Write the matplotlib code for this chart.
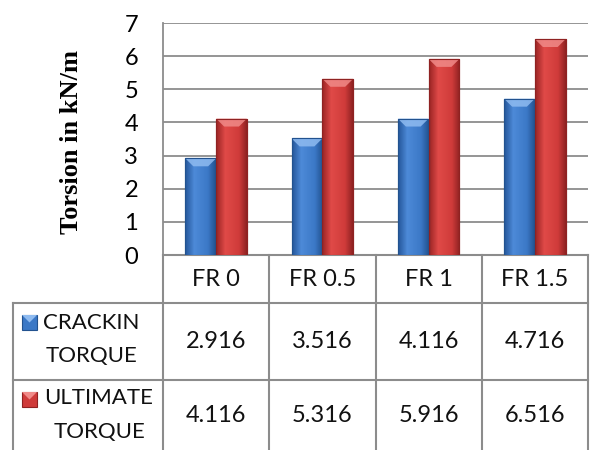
import numpy as np
import matplotlib
matplotlib.use("Agg")
import matplotlib.pyplot as plt
from matplotlib.colors import LinearSegmentedColormap
from matplotlib.patches import Polygon, Rectangle
from matplotlib.transforms import blended_transform_factory

categories = ["FR 0", "FR 0.5", "FR 1", "FR 1.5"]
cracking = [2.916, 3.516, 4.116, 4.716]
ultimate = [4.116, 5.316, 5.916, 6.516]
series_names = [("CRACKIN", "TORQUE"), ("ULTIMATE", "TORQUE")]
yticks = [0, 1, 2, 3, 4, 5, 6, 7]

W, H = 592, 450
fig = plt.figure(figsize=(W / 100, H / 100), dpi=100)

# pixel helpers for the layout
def fx(px):
    return px / W

def fy(px):
    return 1 - px / H

ax = fig.add_axes([fx(163), fy(255), fx(588) - fx(163), fy(23) - fy(255)])
ax.set_xlim(-0.5, len(categories) - 0.5)
ax.set_ylim(0, 7)
ax.set_yticks(yticks)
ax.set_xticks([])
for s in ["top", "right", "bottom"]:
    ax.spines[s].set_visible(False)
grid_c = "#8c8c8c"
ax.spines["left"].set_color(grid_c)
ax.spines["left"].set_linewidth(1.3)
ax.yaxis.grid(True, color=grid_c, linewidth=1.3)
ax.set_axisbelow(True)
ax.tick_params(axis="y", length=0, pad=18, labelsize=17)
for lab in ax.get_yticklabels():
    lab.set_fontfamily("Lato")

fig.text(fx(72), fy(142), "Torsion in kN/m", rotation=90, ha="center", va="center",
         family="Liberation Serif", weight="bold", fontsize=19)

blue = ["#24569a", "#4d8ad8", "#3b78c6", "#22528f"]
red = ["#9a2424", "#e04a48", "#cf3b3a", "#8f2222"]
blue_top = "#8fbbf0"
red_top = "#f08a88"

bw = 0.29
x = np.arange(len(categories))
grad = np.linspace(0, 1, 64).reshape(1, -1)


def shaded_bars(xs, vals, stops, top_c):
    cmap = LinearSegmentedColormap.from_list("g", list(zip([0, 0.3, 0.75, 1], stops)))
    bars = ax.bar(xs, vals, width=bw, color=stops[2], edgecolor=stops[3], linewidth=0.8, zorder=2)
    for b in bars:
        x0, w, h = b.get_x(), b.get_width(), b.get_height()
        im = ax.imshow(grad, extent=[x0, x0 + w, 0, h], aspect="auto", cmap=cmap, zorder=2.5)
        im.set_clip_path(b)
        # bevelled top edge
        d, dh = w * 0.26, 0.24
        ax.add_patch(Polygon([(x0, h), (x0 + w, h), (x0 + w - d, h - dh), (x0 + d, h - dh)],
                             closed=True, facecolor=top_c, edgecolor="none", alpha=0.85, zorder=3))
        ax.add_patch(Rectangle((x0, 0), w, h, fill=False, edgecolor=stops[3], linewidth=0.8, zorder=3.5))
    return bars


shaded_bars(x - bw / 2, cracking, blue, blue_top)
shaded_bars(x + bw / 2, ultimate, red, red_top)
ax.set_xlim(-0.5, len(categories) - 0.5)
ax.set_ylim(0, 7)

# data table under the plot
tr = blended_transform_factory(ax.transData, fig.transFigure)
tf = fig.transFigure
lw = 1.5
edges = np.arange(len(categories) + 1) - 0.5
y_head, y_r1, y_r2, y_bot = fy(255), fy(303), fy(380), fy(452)
for e in edges:
    ax.plot([e, e], [y_head, y_bot], color=grid_c, lw=lw, transform=tr, clip_on=False)
ax.plot([edges[0], edges[-1]], [y_head, y_head], color=grid_c, lw=lw, transform=tr, clip_on=False)
for yy in (y_r1, y_r2):
    fig.add_artist(plt.Line2D([fx(13), fx(588)], [yy, yy], color=grid_c, lw=lw))
fig.add_artist(plt.Line2D([fx(13), fx(13)], [y_r1, y_bot], color=grid_c, lw=lw))

cell_font = dict(family="Lato", fontsize=17, ha="center", va="center", color="#111111")
for i, c in enumerate(categories):
    ax.text(x[i], fy(280), c, transform=tr, clip_on=False, **cell_font)
    ax.text(x[i], fy(341), f"{cracking[i]:.3f}", transform=tr, clip_on=False, **cell_font)
    ax.text(x[i], fy(416), f"{ultimate[i]:.3f}", transform=tr, clip_on=False, **cell_font)

# legend keys inside the table, two centred lines each
for (l1, l2), cx, ys, ky, cols, top_c in [
        (series_names[0], 91, (323, 356), 322.5, blue, blue_top),
        (series_names[1], 99, (398, 432), 399.5, red, red_top)]:
    ky = fy(ky)
    fig.add_artist(Rectangle((fx(22), ky - 7.5 / H), 15 / W, 15 / H, transform=tf,
                             facecolor=cols[2], edgecolor=cols[3], lw=0.8))
    fig.add_artist(Polygon([(fx(22), ky + 7.5 / H), (fx(37), ky + 7.5 / H), (fx(29.5), ky)],
                           closed=True, transform=tf, facecolor=top_c, edgecolor="none"))
    for line, yy in zip((l1, l2), ys):
        fig.text(fx(cx), fy(yy), line, ha="center", va="center",
                 family="Lato", fontsize=16, color="#111111")

fig.savefig("out.png", dpi=100)
